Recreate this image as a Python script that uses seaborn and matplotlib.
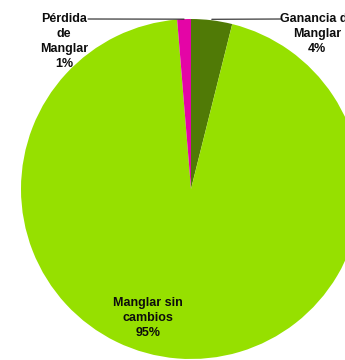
import matplotlib
matplotlib.use("Agg")
import matplotlib.pyplot as plt
from matplotlib import font_manager as fm
import numpy as np
import seaborn as sns

# Cambio de cobertura de manglar (porcentaje del área)
categorias = ["Ganancia de\nManglar", "Manglar sin\ncambios", "Pérdida\nde\nManglar"]
valores = [3.9, 94.8, 1.3]
colores = ["#507A06", "#96E000", "#E405A6"]

sns.set_theme(style="white")
plt.rcParams["font.family"] = ["Liberation Sans", "DejaVu Sans"]

# Fuente Liberation Sans Bold (ancho normal)
ruta = [f for f in fm.findSystemFonts() if f.endswith("LiberationSans-Bold.ttf")]
fuente = fm.FontProperties(fname=ruta[0]) if ruta else fm.FontProperties(
    family="Liberation Sans", weight="bold")
fuente.set_size(9)

fig = plt.figure(figsize=(3.45, 3.6), dpi=100)
ax = fig.add_axes([0, 0, 1, 1])

centro = (191, 171)
radio = 170
wedges, _ = ax.pie(valores, colors=colores, startangle=90, counterclock=False,
                   center=centro, radius=radio, frame=True,
                   wedgeprops=dict(linewidth=0))
ax.set_xlim(0, 345)
ax.set_ylim(0, 360)
ax.set_aspect("equal")
ax.axis("off")

total = sum(valores)
pct = [f"{v / total * 100:.0f}%" for v in valores]


def punto_borde(w):
    ang = np.deg2rad((w.theta1 + w.theta2) / 2)
    return centro[0] + radio * np.cos(ang), centro[1] + radio * np.sin(ang)


estilo = dict(fontproperties=fuente, color="#0d0d0d", ha="center", linespacing=1.32)

# Ganancia (arriba a la derecha)
gx, gy = punto_borde(wedges[0])
ax.plot([gx, 281], [gy + 1, 341], color="#222222", lw=0.8)
ax.text(317, 347, f"{categorias[0]}\n{pct[0]}", va="top", **estilo)

# Pérdida (arriba a la izquierda)
px, py = punto_borde(wedges[2])
ax.plot([88, px], [341, py], color="#222222", lw=0.8)
ax.text(64, 347, f"{categorias[2]}\n{pct[2]}", va="top", **estilo)

# Sin cambios (dentro del sector)
ax.text(148, 42, f"{categorias[1]}\n{pct[1]}", va="center", **estilo)

fig.savefig("out.png", dpi=100)
